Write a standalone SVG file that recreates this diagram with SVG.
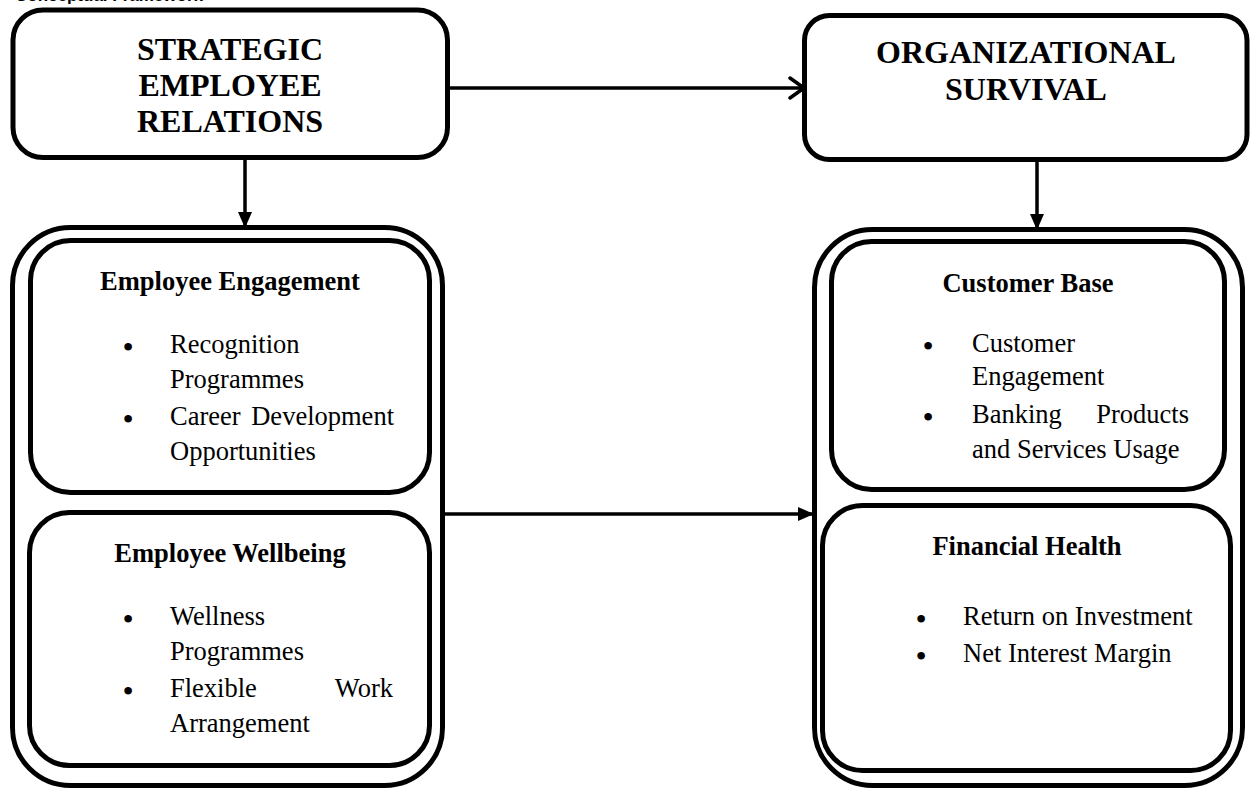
<svg xmlns="http://www.w3.org/2000/svg" width="1250" height="789" viewBox="0 0 1250 789">
  <style>
    .box { fill: #fff; stroke: #000; stroke-width: 5; }
    .head { font-family: "Liberation Serif", "Times New Roman", serif; font-weight: bold; font-size: 32px; text-anchor: middle; fill: #000; }
    .sub { font-family: "Liberation Serif", "Times New Roman", serif; font-weight: bold; font-size: 26.5px; text-anchor: middle; fill: #000; }
    .item { font-family: "Liberation Serif", "Times New Roman", serif; font-size: 26.5px; fill: #000; }
    .dot { font-family: "Liberation Serif", "Times New Roman", serif; font-size: 32px; fill: #000; }
    .end { text-anchor: end; }
    .cap { font-family: "Liberation Sans", Arial, sans-serif; font-weight: bold; font-size: 17px; fill: #000; }
    .wire { fill: none; stroke: #000; stroke-width: 3.5; }
  </style>
  <defs>
    <marker id="solid" viewBox="0 0 16 14" refX="15" refY="7" markerWidth="16" markerHeight="14" markerUnits="userSpaceOnUse" orient="auto">
      <path d="M0,0 L16,7 L0,14 Z" fill="#000"/>
    </marker>
    <marker id="open" viewBox="0 0 18 24" refX="16" refY="12" markerWidth="18" markerHeight="24" markerUnits="userSpaceOnUse" orient="auto">
      <path d="M2,2 L16,12 L2,22" fill="none" stroke="#000" stroke-width="3.5" stroke-linecap="round" stroke-linejoin="round"/>
    </marker>
  </defs>

  <rect width="1250" height="789" fill="#fff"/>

  <!-- heading line, clipped by the top edge -->
  <text class="cap" x="15" y="1">Conceptual Framework</text>

  <g id="connectors">
    <line class="wire" x1="245" y1="160" x2="245" y2="227" marker-end="url(#solid)"/>
    <line class="wire" x1="450" y1="88" x2="804" y2="88" marker-end="url(#open)"/>
    <line class="wire" x1="1037" y1="162" x2="1037" y2="229" marker-end="url(#solid)"/>
    <line class="wire" x1="443" y1="514" x2="813" y2="514" stroke-width="3" marker-end="url(#solid)"/>
  </g>

  <g id="strategic-employee-relations">
    <rect class="box" x="13" y="10" width="434.5" height="147.5" rx="30"/>
    <text class="head" x="230" y="60">STRATEGIC</text>
    <text class="head" x="230" y="96">EMPLOYEE</text>
    <text class="head" x="230" y="132">RELATIONS</text>
  </g>

  <g id="organizational-survival">
    <rect class="box" x="804.5" y="15.5" width="442.5" height="144" rx="25"/>
    <text class="head" x="1026" y="63">ORGANIZATIONAL</text>
    <text class="head" x="1026" y="100">SURVIVAL</text>
  </g>

  <g id="employee-relations-dimensions">
    <rect class="box" x="12.5" y="227.5" width="430" height="558" rx="58"/>

    <g id="employee-engagement">
      <rect class="box" x="30.5" y="240.5" width="399" height="252" rx="40"/>
      <text class="sub" x="230" y="290">Employee Engagement</text>
      <text class="dot" x="122.5" y="358">•</text>
      <text class="item" x="170" y="353">Recognition</text>
      <text class="item" x="170" y="388">Programmes</text>
      <text class="dot" x="122.5" y="430">•</text>
      <text class="item" x="170" y="425">Career</text>
      <text class="item end" x="394" y="425">Development</text>
      <text class="item" x="170" y="460">Opportunities</text>
    </g>

    <g id="employee-wellbeing">
      <rect class="box" x="29.5" y="512.5" width="400" height="253" rx="40"/>
      <text class="sub" x="230" y="562">Employee Wellbeing</text>
      <text class="dot" x="122.5" y="630">•</text>
      <text class="item" x="170" y="625">Wellness</text>
      <text class="item" x="170" y="660">Programmes</text>
      <text class="dot" x="122.5" y="702">•</text>
      <text class="item" x="170" y="697">Flexible</text>
      <text class="item end" x="393" y="697">Work</text>
      <text class="item" x="170" y="732">Arrangement</text>
    </g>
  </g>

  <g id="survival-dimensions">
    <rect class="box" x="814.5" y="229.5" width="428" height="556" rx="58"/>

    <g id="customer-base">
      <rect class="box" x="831.5" y="241.5" width="393" height="248" rx="40"/>
      <text class="sub" x="1028" y="292">Customer Base</text>
      <text class="dot" x="922.5" y="357">•</text>
      <text class="item" x="972" y="352">Customer</text>
      <text class="item" x="972" y="385">Engagement</text>
      <text class="dot" x="922.5" y="428">•</text>
      <text class="item" x="972" y="423">Banking</text>
      <text class="item end" x="1189" y="423">Products</text>
      <text class="item" x="972" y="458">and Services Usage</text>
    </g>

    <g id="financial-health">
      <rect class="box" x="822.5" y="505.5" width="408" height="265" rx="40"/>
      <text class="sub" x="1027" y="555">Financial Health</text>
      <text class="dot" x="915.5" y="630">•</text>
      <text class="item" x="963" y="625">Return on Investment</text>
      <text class="dot" x="915.5" y="667">•</text>
      <text class="item" x="963" y="662">Net Interest Margin</text>
    </g>
  </g>
</svg>
